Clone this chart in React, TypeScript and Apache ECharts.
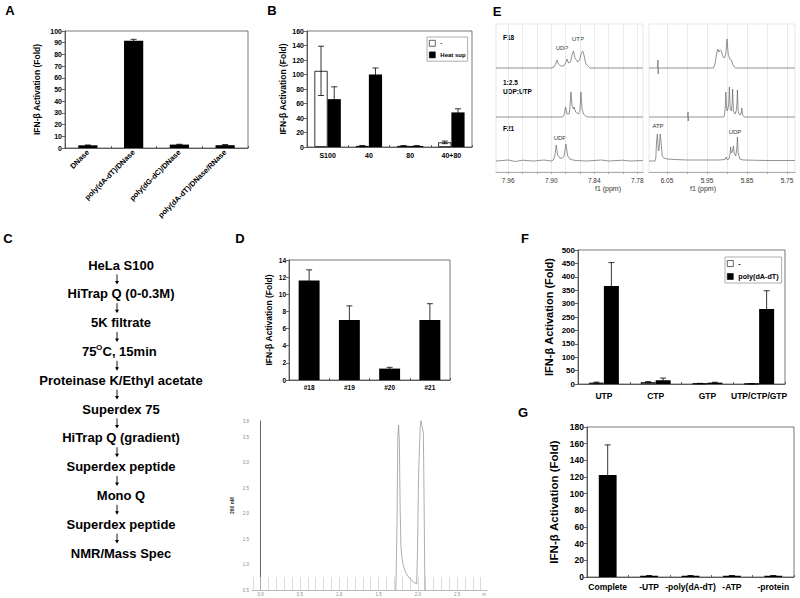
import React, { useEffect, useRef } from 'react';
import * as echarts from 'echarts';

const FONT = '"Liberation Sans", Arial, sans-serif';

// ---------- Panel A ----------
const aCategories = ['DNase', 'poly(dA-dT)/DNase', 'poly(dG-dC)/DNase', 'poly(dA-dT)/DNase/RNase'];
const aValues = [2.3, 91.7, 2.9, 2.4];
const aErrors = [0.3, 1.2, 0.3, 0.6];

// ---------- Panel B ----------
const bCategories = ['S100', '40', '80', '40+80'];
const bSeriesNames = ['-', 'Heat sup'];
const bMinus = [105, 1.5, 1.5, 6.4];
const bMinusErr = [34, 0.6, 0.5, 1.8];
const bHeat = [66, 100, 1.5, 47.7];
const bHeatErr = [17, 9, 0.3, 5];

// ---------- Panel C ----------
const flowSteps = [
  'HeLa S100', 'HiTrap Q (0-0.3M)', '5K filtrate', '75^OC, 15min', 'Proteinase K/Ethyl acetate',
  'Superdex 75', 'HiTrap Q (gradient)', 'Superdex peptide', 'Mono Q', 'Superdex peptide', 'NMR/Mass Spec',
];

// ---------- Panel D ----------
const dCategories = ['#18', '#19', '#20', '#21'];
const dValues = [11.6, 7.0, 1.33, 7.0];
const dErrors = [1.25, 1.65, 0.15, 1.9];
const chromTrace = [
  [1.72, 0.45], [1.735, 1.8], [1.745, 3.5], [1.755, 3.74], [1.765, 3.4], [1.775, 2.1], [1.785, 1.35],
  [1.8, 1.1], [1.82, 0.95], [1.85, 0.83], [1.9, 0.72], [1.95, 0.65], [1.985, 0.62], [1.995, 1.2],
  [2.01, 2.8], [2.03, 3.7], [2.04, 3.83], [2.055, 3.7], [2.07, 3.6], [2.08, 2.2], [2.09, 0.45],
];
const chromXLabels = [0, 0.5, 1, 1.5, 2, 2.5];
const chromYLabels = [0.5, 1, 1.5, 2, 2.5, 3, 3.5, 3.82];

// ---------- Panel E (1H NMR, ppm vs intensity) ----------
const eLeftLabels = [7.96, 7.9, 7.84, 7.78];
const eLeftGrid = [7.96, 7.94, 7.92, 7.9, 7.88, 7.86, 7.84, 7.82, 7.8, 7.78];
const eRightLabels = [6.05, 5.95, 5.85, 5.75];
const eRightGrid = [6.05, 6.0, 5.95, 5.9, 5.85, 5.8, 5.75];
const specF18Left = [
  [7.977, 0], [7.9, 0], [7.896, 1], [7.894, 4], [7.892, 8], [7.89, 4], [7.887, 2], [7.883, 2], [7.88, 5],
  [7.878, 9], [7.876, 5], [7.873, 6], [7.871, 13], [7.869, 17], [7.867, 10], [7.863, 6], [7.86, 9],
  [7.858, 15], [7.856, 17], [7.854, 12], [7.852, 5], [7.849, 2], [7.846, 0], [7.772, 0],
];
const specMixLeft = [
  [7.977, 0], [7.884, 0], [7.882, 2], [7.88, 10], [7.878, 3], [7.875, 3], [7.874, 8], [7.8725, 25],
  [7.871, 12], [7.869, 8], [7.868, 10], [7.866, 5], [7.862, 3], [7.86, 6], [7.8586, 25], [7.857, 8],
  [7.855, 3], [7.852, 1], [7.849, 0], [7.772, 0],
];
const specF21Left = [
  [7.977, 0], [7.96, 1], [7.95, -0.5], [7.94, 0.8], [7.925, 0], [7.91, 1], [7.9, 0], [7.897, 1],
  [7.895, 5], [7.893, 16], [7.891, 6], [7.888, 3], [7.884, 3], [7.882, 5], [7.8795, 17], [7.877, 5],
  [7.874, 2], [7.87, 1], [7.865, 0.5], [7.85, 0], [7.83, 1], [7.82, 0], [7.8, 0.8], [7.79, 0], [7.772, 0.5],
];
const specF18Right = [
  [6.095, 0], [6.074, 0], [6.0725, 8], [6.072, -6], [6.0715, 0], [5.934, 0], [5.93, 4], [5.926, 14],
  [5.923, 19], [5.92, 16], [5.917, 18], [5.914, 17], [5.91, 11], [5.906, 10], [5.903, 14], [5.9, 29],
  [5.897, 14], [5.893, 9], [5.889, 8], [5.886, 4], [5.882, 1], [5.879, 0], [5.73, 0],
];
const specMixRight = [
  [6.095, 0], [5.998, 0], [5.9975, 5], [5.997, -4], [5.9965, 0], [5.908, 0], [5.906, 3], [5.904, 12],
  [5.903, 25], [5.901, 8], [5.899, 6], [5.896, 12], [5.894, 30], [5.892, 8], [5.889, 6], [5.887, 14],
  [5.886, 28], [5.884, 6], [5.88, 3], [5.877, 6], [5.875, 14], [5.874, 27], [5.872, 5], [5.868, 2],
  [5.865, 3], [5.863, 9], [5.861, 2], [5.857, 0], [5.73, 0],
];
const specF21Right = [
  [6.095, 0], [6.08, 0], [6.078, 3], [6.076, 20], [6.074, 27], [6.0715, 10], [6.0695, 12], [6.067, 27],
  [6.065, 20], [6.062, 5], [6.058, 3], [6.05, 2], [6.03, 1.5], [6.0, 1], [5.97, 1], [5.92, 1],
  [5.905, 1.5], [5.902, 4], [5.9, 1.5], [5.895, 2], [5.892, 8], [5.891, 14], [5.889, 8], [5.886, 10],
  [5.884, 15], [5.882, 8], [5.878, 5], [5.875, 15], [5.874, 24], [5.872, 8], [5.868, 2], [5.86, 1],
  [5.8, 0.5], [5.73, 0.5],
];

// ---------- Panel F ----------
const fCategories = ['UTP', 'CTP', 'GTP', 'UTP/CTP/GTP'];
const fSeriesNames = ['-', 'poly(dA-dT)'];
const fMinus = [5, 7, 2, 1];
const fMinusErr = [2, 2, 0.5, 0.3];
const fPoly = [366, 14, 5, 280];
const fPolyErr = [87, 8, 1.5, 68];

// ---------- Panel G ----------
const gCategories = ['Complete', '-UTP', '-poly(dA-dT)', '-ATP', '-protein'];
const gValues = [122.5, 1.5, 1.5, 1.5, 1.5];
const gErrors = [36, 0.2, 0.2, 0.2, 0.2];

const Y_NAME = 'IFN-\u03B2 Activation (Fold)';

function catAxis(gi: number, data: string[], fontSize: number, margin: number, rotate = 0) {
  return {
    type: 'category', gridIndex: gi, data,
    axisLine: { lineStyle: { color: '#444', width: 0.8 } },
    axisTick: { show: true, inside: true, length: 2, lineStyle: { color: '#444', width: 0.8 } },
    axisLabel: { interval: 0, fontSize, fontWeight: 'bold', color: '#000', margin, rotate, fontFamily: FONT },
  };
}

function valAxis(gi: number, max: number, interval: number, fontSize: number, nameSize: number, nameGap: number) {
  return {
    type: 'value', gridIndex: gi, min: 0, max, interval,
    axisLine: { show: true, lineStyle: { color: '#444', width: 0.8 } },
    axisTick: { show: true, length: 3, lineStyle: { color: '#444', width: 0.8 } },
    splitLine: { show: false },
    axisLabel: { fontSize, fontWeight: 'bold', color: '#000', margin: 3, fontFamily: FONT },
    name: Y_NAME, nameLocation: 'middle', nameGap,
    nameTextStyle: { fontSize: nameSize, fontWeight: 'bold', color: '#000', fontFamily: FONT },
  };
}

function barSeries(gi: number, name: string | undefined, data: number[], barWidth: string, white = false) {
  return {
    type: 'bar', name, xAxisIndex: gi, yAxisIndex: gi, data, barWidth, barGap: '0%',
    itemStyle: white ? { color: '#fff', borderColor: '#000', borderWidth: 0.8 } : { color: '#000' },
    silent: true,
  };
}

function errorSeries(gi: number, values: number[], err: number[], offset: number) {
  return {
    type: 'custom', xAxisIndex: gi, yAxisIndex: gi, z: 5, silent: true,
    encode: { x: 0, y: [1, 2] },
    data: values.map((v, i) => [i, v - err[i], v + err[i]]),
    renderItem: (params: any, api: any) => {
      const band = api.size([1, 0])[0];
      const top = api.coord([api.value(0), api.value(2)]);
      const bot = api.coord([api.value(0), api.value(1)]);
      const x = top[0] + offset * band;
      const st = { stroke: '#000', lineWidth: 0.8 };
      return {
        type: 'group',
        children: [
          { type: 'line', shape: { x1: x, y1: bot[1], x2: x, y2: top[1] }, style: st },
          { type: 'line', shape: { x1: x - 3, y1: top[1], x2: x + 3, y2: top[1] }, style: st },
          { type: 'line', shape: { x1: x - 3, y1: bot[1], x2: x + 3, y2: bot[1] }, style: st },
        ],
      };
    },
  };
}

function specX(gi: number, range: number[], show: boolean, labels?: number[], ticks?: number[]) {
  if (!show) return { type: 'value', gridIndex: gi, min: range[0], max: range[1], inverse: true, show: false };
  return {
    type: 'value', gridIndex: gi, min: range[0], max: range[1], inverse: true,
    axisLine: { show: true, lineStyle: { color: '#999', width: 0.8 } },
    axisTick: { show: true, customValues: ticks, length: 2, lineStyle: { color: '#999', width: 0.8 } },
    axisLabel: { customValues: labels, formatter: (v: number) => v.toFixed(2), fontSize: 6.5, color: '#333', margin: 5, fontFamily: FONT },
    splitLine: { show: true, lineStyle: { color: '#e4e4e4', width: 0.8 } },
  };
}

function specLine(gi: number, data: number[][]) {
  return {
    type: 'line', xAxisIndex: gi, yAxisIndex: gi, data, symbol: 'none', silent: true,
    lineStyle: { color: '#666', width: 0.7 },
  };
}

function txt(x: number, y: number, text: string, font: string, align = 'center', fill = '#000') {
  return { type: 'text', x, y, silent: true, style: { text, font, fill, textAlign: align, textVerticalAlign: 'middle' } };
}

export default function App() {
  const ref = useRef<HTMLDivElement>(null);
  useEffect(() => {
    if (!ref.current) return;
    const chart = echarts.init(ref.current, null, { renderer: 'svg' });

    const eL = { left: 496, width: 147 };
    const eR = { left: 649, width: 146 };
    const eLeftRange = [7.772, 7.977];
    const eRightRange = [5.73, 6.095];
    const rows = [
      { top: 24, height: 50, max: 44 },
      { top: 70, height: 53, max: 47 },
      { top: 120, height: 47, max: 41 },
    ];

    const grids: any[] = [
      { left: 65, top: 31, width: 183, height: 117, show: true, borderColor: '#555', borderWidth: 0.8 },
      { left: 307, top: 31, width: 165, height: 116, show: true, borderColor: '#555', borderWidth: 0.8 },
      { left: 289, top: 260, width: 161, height: 120, show: true, borderColor: '#555', borderWidth: 0.8 },
      { left: 252, top: 421, width: 235, height: 169 },
      { left: 578, top: 250, width: 207, height: 134, show: true, borderColor: '#555', borderWidth: 0.8 },
      { left: 587, top: 427, width: 207, height: 150, show: true, borderColor: '#555', borderWidth: 0.8 },
      { left: eL.left, top: 24, width: eL.width, height: 148, show: true, borderColor: '#e2e2e2', borderWidth: 0.8 },
      { left: eR.left, top: 24, width: eR.width, height: 148, show: true, borderColor: '#e2e2e2', borderWidth: 0.8 },
    ];
    rows.forEach((r) => grids.push({ left: eL.left, top: r.top, width: eL.width, height: r.height }));
    rows.forEach((r) => grids.push({ left: eR.left, top: r.top, width: eR.width, height: r.height }));

    const chromTicks: number[] = [];
    for (let k = -1; k <= 28; k++) chromTicks.push(k / 10);

    const xAxes: any[] = [
      catAxis(0, aCategories, 7.5, 3, 45),
      catAxis(1, bCategories, 7, 5),
      catAxis(2, dCategories, 6.5, 4),
      {
        type: 'value', gridIndex: 3, min: -0.11, max: 2.88,
        axisLine: { show: true, lineStyle: { color: '#aaa', width: 0.8 } },
        axisTick: { show: true, inside: true, length: 13, customValues: chromTicks, lineStyle: { color: '#ccc', width: 0.7 } },
        axisLabel: { customValues: chromXLabels, formatter: (v: number) => v.toFixed(1), fontSize: 4.5, color: '#888', margin: 2 },
        splitLine: { show: false },
      },
      catAxis(4, fCategories, 8.5, 7),
      catAxis(5, gCategories, 8.5, 5),
      specX(6, eLeftRange, true, eLeftLabels, eLeftGrid),
      specX(7, eRightRange, true, eRightLabels, eRightGrid),
      specX(8, eLeftRange, false), specX(9, eLeftRange, false), specX(10, eLeftRange, false),
      specX(11, eRightRange, false), specX(12, eRightRange, false), specX(13, eRightRange, false),
    ];

    const yAxes: any[] = [
      valAxis(0, 100, 10, 7, 8.5, 24),
      valAxis(1, 160, 20, 7, 8.5, 20),
      valAxis(2, 14, 2, 6.5, 8.5, 16),
      {
        type: 'value', gridIndex: 3, min: 0.5, max: 3.82,
        axisLine: { show: true, lineStyle: { color: '#666', width: 1 } },
        axisTick: { show: false },
        axisLabel: { customValues: chromYLabels, formatter: (v: number) => v.toFixed(1), fontSize: 4.5, color: '#888', margin: 3 },
        splitLine: { show: false },
        name: '260 nM', nameLocation: 'middle', nameGap: 18,
        nameTextStyle: { fontSize: 5, fontWeight: 'bold', color: '#333' },
      },
      valAxis(4, 500, 50, 8, 11, 24),
      valAxis(5, 180, 20, 8.5, 11.5, 27),
      { type: 'value', gridIndex: 6, show: false, min: 0, max: 1 },
      { type: 'value', gridIndex: 7, show: false, min: 0, max: 1 },
    ];
    rows.forEach((r, i) => yAxes.push({ type: 'value', gridIndex: 8 + i, show: false, min: -6, max: r.max }));
    rows.forEach((r, i) => yAxes.push({ type: 'value', gridIndex: 11 + i, show: false, min: -6, max: r.max }));

    const series: any[] = [
      barSeries(0, undefined, aValues, '42%'),
      errorSeries(0, aValues, aErrors, 0),
      barSeries(1, bSeriesNames[0], bMinus, '32%', true),
      barSeries(1, bSeriesNames[1], bHeat, '32%'),
      errorSeries(1, bMinus, bMinusErr, -0.16),
      errorSeries(1, bHeat, bHeatErr, 0.16),
      barSeries(2, undefined, dValues, '52%'),
      errorSeries(2, dValues, dErrors, 0),
      {
        type: 'line', xAxisIndex: 3, yAxisIndex: 3, data: chromTrace, symbol: 'none', silent: true,
        lineStyle: { color: '#999', width: 0.8 },
      },
      barSeries(4, fSeriesNames[0], fMinus, '29%', true),
      barSeries(4, fSeriesNames[1], fPoly, '29%'),
      errorSeries(4, fMinus, fMinusErr, -0.145),
      errorSeries(4, fPoly, fPolyErr, 0.145),
      barSeries(5, undefined, gValues, '43%'),
      errorSeries(5, gValues, gErrors, 0),
      specLine(8, specF18Left), specLine(9, specMixLeft), specLine(10, specF21Left),
      specLine(11, specF18Right), specLine(12, specMixRight), specLine(13, specF21Right),
    ];

    const elements: any[] = [];
    const panelFont = 'bold 13px "Liberation Sans", Arial, sans-serif';
    [['A', 10, 10], ['B', 272, 10], ['E', 497, 11], ['C', 8, 238], ['D', 240, 238], ['F', 525, 238], ['G', 523, 412]].forEach(
      ([t, x, y]) => elements.push(txt(x as number, y as number, t as string, panelFont)),
    );

    const flowFont = 'bold 13px "Liberation Sans", Arial, sans-serif';
    const cx = 121;
    const y0 = 265;
    const step = 28.8;
    flowSteps.forEach((s, i) => {
      const y = y0 + i * step;
      if (s.includes('^O')) {
        const [a, b] = s.split('^O');
        elements.push(txt(82, y, a, flowFont, 'left'));
        elements.push(txt(96, y - 4, 'O', 'bold 8px "Liberation Sans", Arial, sans-serif', 'left'));
        elements.push(txt(102.5, y, b, flowFont, 'left'));
      } else {
        elements.push(txt(cx, y, s, flowFont));
      }
      if (i < flowSteps.length - 1) {
        const mid = y + step / 2;
        elements.push({ type: 'line', silent: true, shape: { x1: 117, y1: mid - 5, x2: 117, y2: mid + 3 }, style: { stroke: '#000', lineWidth: 0.9 } });
        elements.push({ type: 'polygon', silent: true, shape: { points: [[115, mid + 1.5], [119, mid + 1.5], [117, mid + 5]] }, style: { fill: '#000' } });
      }
    });

    const eBold = 'bold 6.5px "Liberation Sans", Arial, sans-serif';
    const eNorm = '6px "Liberation Sans", Arial, sans-serif';
    elements.push(txt(503, 37, 'F18', eBold, 'left'));
    elements.push(txt(503, 82, '1:2.5', eBold, 'left'));
    elements.push(txt(503, 91, 'UDP:UTP', eBold, 'left'));
    elements.push(txt(503, 128, 'F21', eBold, 'left'));
    elements.push(txt(562, 48, 'UDP', eNorm, 'center', '#333'));
    elements.push(txt(578, 39, 'UTP', eNorm, 'center', '#333'));
    elements.push(txt(560, 138, 'UDP', eNorm, 'center', '#333'));
    elements.push(txt(658, 126, 'ATP', eNorm, 'center', '#333'));
    elements.push(txt(735, 132, 'UDP', eNorm, 'center', '#333'));
    elements.push(txt(608, 188, 'f1 (ppm)', '7px "Liberation Sans", Arial, sans-serif', 'center', '#333'));
    elements.push(txt(703, 188, 'f1 (ppm)', '7px "Liberation Sans", Arial, sans-serif', 'center', '#333'));

    elements.push(txt(484, 594, 'm', '4.5px "Liberation Sans", Arial, sans-serif', 'center', '#888'));

    chart.setOption({
      animation: false,
      backgroundColor: '#fff',
      textStyle: { fontFamily: FONT },
      grid: grids,
      xAxis: xAxes,
      yAxis: yAxes,
      legend: [
        {
          left: 427, top: 37, orient: 'vertical', data: bSeriesNames, icon: 'rect',
          itemWidth: 6, itemHeight: 6, itemGap: 5, padding: [3, 2, 3, 2],
          borderColor: '#999', borderWidth: 0.8, selectedMode: false,
          itemStyle: { borderWidth: 0.6, borderColor: '#000' },
          textStyle: { fontSize: 6, fontWeight: 'bold', color: '#000', fontFamily: FONT },
        },
        {
          left: 725, top: 257, orient: 'vertical', data: fSeriesNames, icon: 'rect',
          itemWidth: 6, itemHeight: 6, itemGap: 6, padding: [3, 3, 3, 2],
          borderColor: '#999', borderWidth: 0.8, selectedMode: false,
          itemStyle: { borderWidth: 0.6, borderColor: '#000' },
          textStyle: { fontSize: 7.2, fontWeight: 'bold', color: '#000', fontFamily: FONT },
        },
      ],
      series,
      graphic: { elements },
    });
    return () => chart.dispose();
  }, []);

  return <div ref={ref} style={{ position: 'absolute', left: 0, top: 0, width: 800, height: 598, background: '#fff' }} />;
}
